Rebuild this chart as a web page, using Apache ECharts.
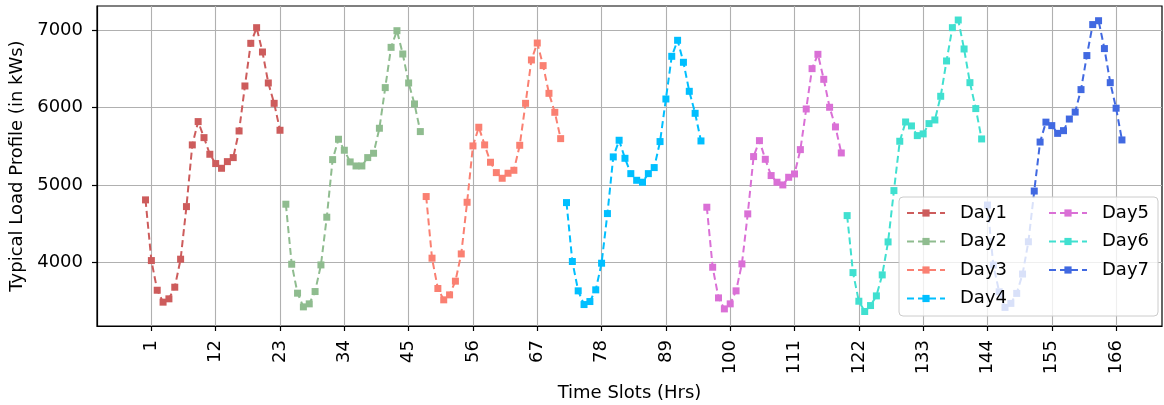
<!DOCTYPE html>
<html>
<head>
<meta charset="utf-8">
<script src="https://cdn.jsdelivr.net/npm/echarts@6/dist/echarts.min.js"></script>
<style>
  html, body { margin: 0; padding: 0; background: #fff; }
  #chart { width: 1164px; height: 405px; }
</style>
</head>
<body>
<div id="chart"></div>
<script>
// Typical load profile, 24 hourly slots per day, 7 days
const dayNames = ['Day1', 'Day2', 'Day3', 'Day4', 'Day5', 'Day6', 'Day7'];
const dayColors = ['#CD5C5C', '#8FBC8F', '#FA8072', '#00BFFF', '#DA70D6', '#40E0D0', '#4169E1'];

const day1 = [4806, 4022, 3639, 3485, 3528, 3678, 4040, 4719, 5516, 5817, 5610, 5395,
              5275, 5214, 5300, 5352, 5696, 6277, 6828, 7030, 6716, 6316, 6053, 5705];
const day2 = [4750, 3975, 3601, 3424, 3463, 3622, 3966, 4582, 5326, 5589, 5447, 5296,
              5244, 5244, 5352, 5408, 5731, 6256, 6776, 6991, 6690, 6316, 6045, 5688];
const day3 = [4849, 4053, 3661, 3515, 3579, 3756, 4108, 4775, 5503, 5744, 5516, 5292,
              5158, 5085, 5150, 5188, 5511, 6053, 6613, 6832, 6540, 6182, 5937, 5597];
const day4 = [4771, 4010, 3631, 3454, 3493, 3644, 3988, 4629, 5361, 5576, 5343, 5145,
              5059, 5034, 5145, 5223, 5559, 6109, 6660, 6867, 6583, 6208, 5924, 5567];
const day5 = [4711, 3936, 3540, 3398, 3463, 3631, 3979, 4625, 5365, 5571, 5330, 5120,
              5034, 4999, 5098, 5141, 5455, 5980, 6501, 6686, 6363, 6002, 5748, 5412];
const day6 = [4603, 3867, 3497, 3364, 3441, 3566, 3837, 4263, 4926, 5563, 5812, 5761,
              5636, 5658, 5791, 5838, 6144, 6600, 7030, 7129, 6755, 6320, 5985, 5593];
const day7 = [4739, 3964, 3619, 3417, 3469, 3598, 3848, 4265, 4920, 5553, 5810, 5765,
              5665, 5700, 5850, 5940, 6230, 6670, 7070, 7120, 6760, 6320, 5990, 5580];

const dayValues = [day1, day2, day3, day4, day5, day6, day7];
const slotsPerDay = 24;

const xTickValues = [1, 12, 23, 34, 45, 56, 67, 78, 89, 100, 111, 122, 133, 144, 155, 166];
const yTickValues = [4000, 5000, 6000, 7000];

const font = 'DejaVu Sans, sans-serif';

const chart = echarts.init(document.getElementById('chart'), null, { renderer: 'canvas' });

const legendBase = {
    orient: 'vertical',
    top: 203,
    padding: 0,
    itemWidth: 38,
    itemHeight: 9,
    itemGap: 8.5,
    textStyle: { fontSize: 18, lineHeight: 20, color: '#000', fontFamily: font, padding: [0, 0, 0, 10] },
    z: 5,
};

chart.setOption({
    backgroundColor: '#fff',
    animation: false,
    grid: {
        left: 97, right: 2, top: 6, bottom: 79,
        outerBoundsMode: 'none',
        containLabel: false,
        show: true, borderColor: '#000', borderWidth: 1.2,
    },
    xAxis: {
        type: 'value',
        min: -8.3,
        max: 173.85,
        name: 'Time Slots (Hrs)',
        nameLocation: 'middle',
        nameGap: 58,
        nameTextStyle: { fontSize: 18, color: '#000', fontFamily: font },
        axisLine: { show: true, onZero: false, lineStyle: { color: '#000', width: 1.2 } },
        axisTick: { show: true, length: 5, lineStyle: { color: '#000', width: 1.2 }, customValues: xTickValues },
        axisLabel: {
            customValues: xTickValues,
            rotate: 90,
            margin: 14,
            fontSize: 18,
            color: '#000',
            fontFamily: font,
        },
        splitLine: { show: true, lineStyle: { color: '#b0b0b0', width: 1.1 } },
    },
    yAxis: {
        type: 'value',
        min: 3177,
        max: 7310,
        name: 'Typical Load Profile (in kWs)',
        nameLocation: 'middle',
        nameGap: 69,
        nameTextStyle: { fontSize: 18, color: '#000', fontFamily: font },
        axisLine: { show: true, onZero: false, lineStyle: { color: '#000', width: 1.2 } },
        axisTick: { show: true, length: 5, lineStyle: { color: '#000', width: 1.2 }, customValues: yTickValues },
        axisLabel: {
            customValues: yTickValues,
            formatter: (v) => String(v),
            margin: 14,
            fontSize: 18,
            color: '#000',
            fontFamily: font,
        },
        splitLine: { show: true, lineStyle: { color: '#b0b0b0', width: 1.1 } },
    },
    legend: [
        Object.assign({}, legendBase, { left: 906, data: dayNames.slice(0, 4) }),
        Object.assign({}, legendBase, { left: 1048, data: dayNames.slice(4) }),
    ],
    graphic: [{
        type: 'rect',
        z: 4,
        shape: { x: 899, y: 197, width: 259, height: 119, r: 4 },
        style: { fill: 'rgba(255,255,255,0.8)', stroke: '#cccccc', lineWidth: 1 },
    }],
    series: dayValues.map((vals, d) => ({
        name: dayNames[d],
        type: 'line',
        data: vals.map((v, i) => [d * slotsPerDay + i, v]),
        symbol: 'rect',
        symbolSize: 7,
        showAllSymbol: true,
        lineStyle: { color: dayColors[d], width: 2, type: [7, 4] },
        itemStyle: { color: dayColors[d] },
        z: 2,
    })),
});
</script>
</body>
</html>
